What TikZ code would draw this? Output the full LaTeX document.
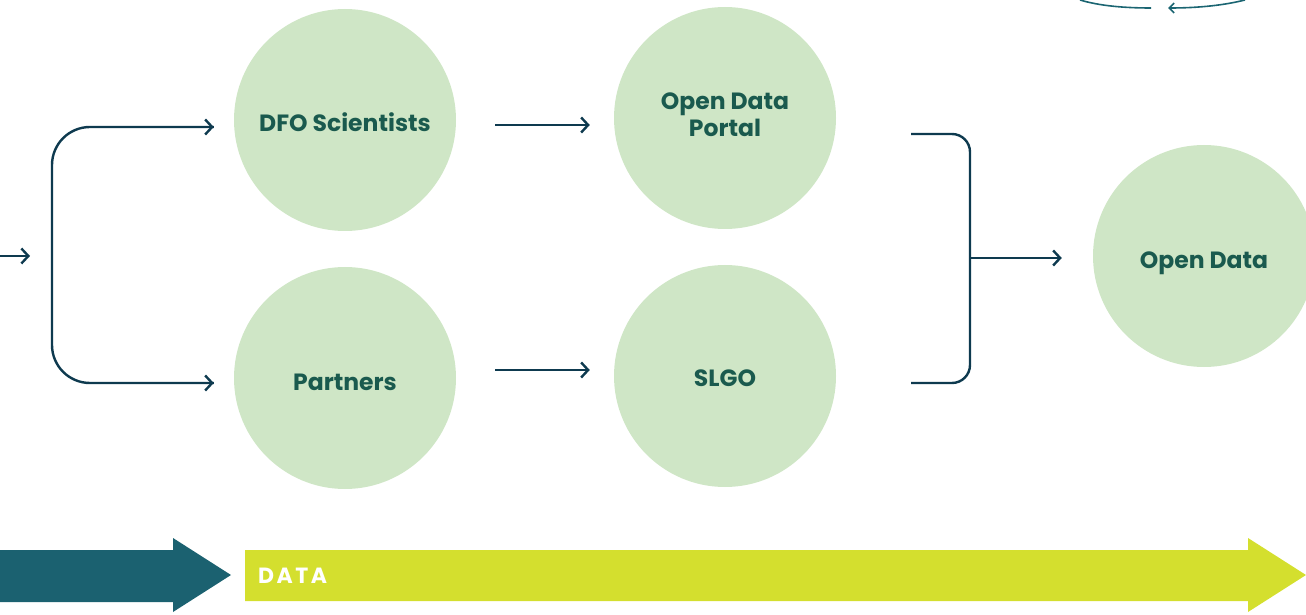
\documentclass[tikz,border=0pt]{standalone}
\usepackage{fontspec}
\setmainfont{Poppins}
\usetikzlibrary{arrows.meta}
\definecolor{bubble}{HTML}{CFE6C6}
\definecolor{labeltext}{HTML}{1A5A4E}
\definecolor{flowline}{HTML}{0E3A4F}
\definecolor{cycleteal}{HTML}{1B6572}
\definecolor{bandteal}{HTML}{1B6170}
\definecolor{bandlime}{HTML}{D4DF2E}
\begin{document}
\begin{tikzpicture}[x=1pt,y=1pt,
  bubblenode/.style={circle,fill=bubble,minimum size=222pt,inner sep=0pt},
  bubbletext/.style={text=labeltext,inner sep=0pt,
    font=\fontsize{23.5}{27}\selectfont\bfseries,align=center},
  flow/.style={draw=flowline,line width=2.4pt,
    -{Straight Barb[length=7pt,width=15pt,line width=2.4pt]}},
  plain/.style={draw=flowline,line width=2.4pt}]
\useasboundingbox (0,0) rectangle (1306,614);
\clip (0,0) rectangle (1306,614);

% stages
\node[bubblenode] (dfo) at (345,494) {};
\node[bubblenode] (portal) at (725,496) {};
\node[bubblenode] (partners) at (345,236) {};
\node[bubblenode] (slgo) at (725,238) {};
\node[bubblenode] (open) at (1204,358) {};

\node[bubbletext] (dfotext) at ([yshift=-2pt]dfo.center) {DFO Scientists};
\node[bubbletext] (portaltext) at ([yshift=3pt]portal.center) {Open Data\\Portal};
\node[bubbletext] (partnerstext) at ([yshift=-4pt]partners.center) {Partners};
\node[bubbletext] (slgotext) at ([yshift=-2pt]slgo.center) {SLGO};
\node[bubbletext] (opentext) at ([yshift=-7pt]open.center) {Open Data};

% incoming arrow and left split
\coordinate (src) at (0,358);
\coordinate (srcend) at (30,358);
\draw[flow] (src) -- (srcend);
\coordinate (splittop) at (52,487);
\coordinate (splitbot) at (52,231);
\draw[plain,rounded corners=38pt] ([xshift=-20pt]dfo.west |- splittop) -- (splittop) -- (splitbot) -- ([xshift=-20pt]partners.west |- splitbot);
\draw[flow] ([xshift=-60pt]dfo.west |- splittop) -- ([xshift=-20pt]dfo.west |- splittop);
\draw[flow] ([xshift=-60pt]partners.west |- splitbot) -- ([xshift=-20pt]partners.west |- splitbot);

% middle arrows
\draw[flow] ([xshift=39pt]dfo.east |- 0,489) -- ([xshift=-24pt]portal.west |- 0,489);
\draw[flow] ([xshift=39pt]partners.east |- 0,244) -- ([xshift=-24pt]slgo.west |- 0,244);

% right merge
\coordinate (mergetop) at (970,480);
\coordinate (mergebot) at (970,231);
\coordinate (mergemid) at (970,356);
\draw[plain,rounded corners=18pt] ([xshift=75pt]portal.east |- mergetop) -- (mergetop) -- (mergebot) -- ([xshift=75pt]slgo.east |- mergebot);
\draw[flow] (mergemid) -- ([xshift=-31pt]open.west |- mergemid);

% cycle arrow at the top edge
\coordinate (cyc1) at (1080,614);
\coordinate (cyc2) at (1151,606);
\coordinate (cyc3) at (1168,606);
\coordinate (cyc4) at (1245,614);
\draw[cycleteal,line width=1.6pt] (cyc1) .. controls (1100,608) and (1125,606) .. (cyc2);
\draw[cycleteal,line width=1.6pt,{Straight Barb[length=5pt,width=10pt,line width=1.6pt]}-] (cyc3) .. controls (1200,606) and (1225,609) .. (cyc4);

% bottom band
\fill[bandteal] (0,12) -- (173,12) -- (173,2) -- (231,39) -- (173,76) -- (173,64) -- (0,64) -- cycle;
\fill[bandlime] (245,13) -- (1248,13) -- (1248,2) -- (1306,39) -- (1248,76) -- (1248,64) -- (245,64) -- cycle;
\node[anchor=west,text=white,font=\fontsize{22}{22}\selectfont\bfseries,inner sep=0pt] (datalabel) at (258,38.5) {D\kern2.5pt A\kern2.5pt T\kern2.5pt A};
\end{tikzpicture}
\end{document}
